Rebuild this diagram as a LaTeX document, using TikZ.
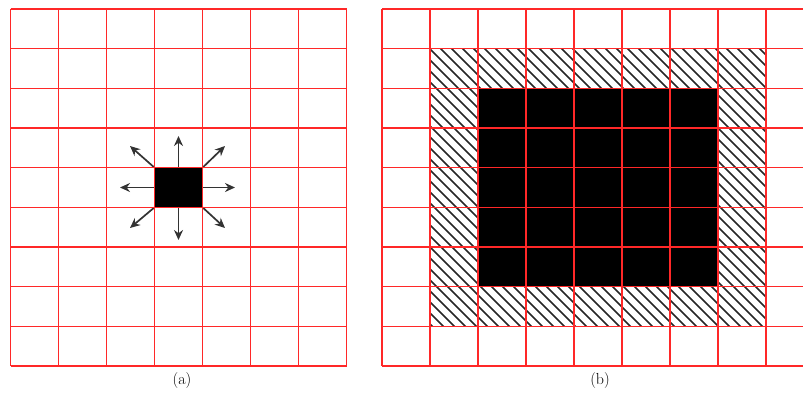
\documentclass[tikz,border=0pt]{standalone}
\usetikzlibrary{arrows.meta}
\begin{document}
\begin{tikzpicture}[x=1pt,y=-1pt,
  gridline/.style={draw={rgb,255:red,255;green,40;blue,40}, line width=1.5pt},
  hatch/.style={draw=black!85, line width=1.5pt},
  spread/.style={-{Stealth[length=10pt,width=9pt]}, draw=black!80, line width=1.7pt},
  caption/.style={font=\fontsize{16}{19}\selectfont, inner sep=0pt}]
\useasboundingbox (0,0) rectangle (803,396);
% ---------- (a) ----------
\node[fill=black, minimum width=48pt, minimum height=39.6pt, inner sep=0pt] (sq) at (178.5,187.5) {};
\coordinate (tn) at (178.5,136);
\coordinate (ts) at (178.5,240);
\coordinate (tw) at (120,187.5);
\coordinate (te) at (235,187.5);
\coordinate (tnw) at (130,146);
\coordinate (tne) at (225,146);
\coordinate (tsw) at (130,228);
\coordinate (tse) at (225,228);
\draw[spread] (sq.north) -- (tn);
\draw[spread] (sq.south) -- (ts);
\draw[spread] (sq.west) -- (tw);
\draw[spread] (sq.east) -- (te);
\draw[spread] (sq.north west) -- (tnw);
\draw[spread] (sq.north east) -- (tne);
\draw[spread] (sq.south west) -- (tsw);
\draw[spread] (sq.south east) -- (tse);
\foreach \i in {0,...,7} \draw[gridline] (10.5+48*\i,9) -- (10.5+48*\i,366);
\foreach \j in {0,...,9} \draw[gridline] (10.5,9+39.667*\j) -- (346.5,9+39.667*\j);
\node[caption] (capa) at (182,381) {(a)};
% ---------- (b) ----------
\begin{scope}
  \clip (430,48.7) rectangle (766,326.3);
  \foreach \c in {95,106,...,730} \draw[hatch] (\c,0) -- (\c+400,400);
\end{scope}
\fill[black] (478,88.3) rectangle (718,286.7);
\begin{scope}
  \clip (0,0) rectangle (803,396);
  \foreach \i in {0,...,9} \draw[gridline] (382+48*\i,9) -- (382+48*\i,366);
  \foreach \j in {0,...,9} \draw[gridline] (382,9+39.667*\j) -- (830,9+39.667*\j);
\end{scope}
\node[caption] (capb) at (600,381) {(b)};
\end{tikzpicture}
\end{document}
